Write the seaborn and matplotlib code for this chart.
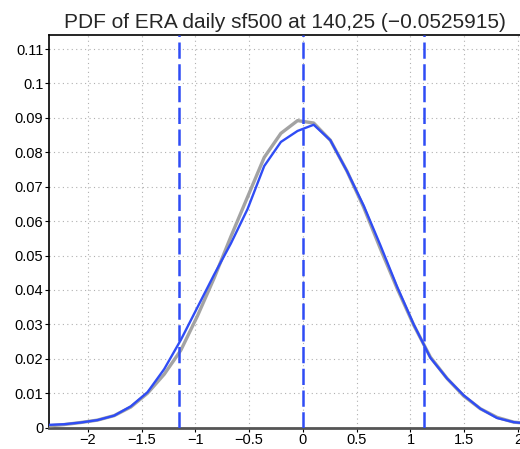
import matplotlib
matplotlib.use("Agg")
import matplotlib.pyplot as plt
import seaborn as sns
import pandas as pd

title = "PDF of ERA daily sf500 at 140,25 (\u22120.0525915)"

x_vals = [-2.375, -2.22, -2.065, -1.91, -1.755, -1.6, -1.445, -1.29, -1.135, -0.98,
          -0.825, -0.67, -0.515, -0.36, -0.205, -0.05, 0.1, 0.255, 0.41, 0.565,
          0.72, 0.875, 1.03, 1.185, 1.34, 1.495, 1.65, 1.805, 1.96, 2.115]
blue_vals = [0.0008, 0.0010, 0.0015, 0.0022, 0.0035, 0.0062, 0.0103, 0.0170, 0.0255, 0.0350,
             0.0445, 0.0535, 0.0635, 0.0760, 0.0830, 0.0862, 0.0880, 0.0835, 0.0745, 0.0645,
             0.0530, 0.0410, 0.0300, 0.0203, 0.0143, 0.0094, 0.0055, 0.0028, 0.0016, 0.0011]
gray_vals = [0.0005, 0.0009, 0.0015, 0.0022, 0.0035, 0.0060, 0.0100, 0.0155, 0.0225, 0.0325,
             0.0435, 0.0555, 0.0670, 0.0785, 0.0855, 0.0892, 0.0885, 0.0835, 0.0745, 0.0640,
             0.0520, 0.0405, 0.0298, 0.0205, 0.0143, 0.0092, 0.0055, 0.0030, 0.0016, 0.0012]
vlines = [-1.152, 0.0, 1.123]

xticks = [-2, -1.5, -1, -0.5, 0, 0.5, 1, 1.5, 2]
xticklabels = ["\u22122", "\u22121.5", "\u22121", "\u22120.5", "0", "0.5", "1", "1.5", "2"]
yticks = [0, 0.01, 0.02, 0.03, 0.04, 0.05, 0.06, 0.07, 0.08, 0.09, 0.1, 0.11]
yticklabels = ["0", "0.01", "0.02", "0.03", "0.04", "0.05", "0.06", "0.07", "0.08", "0.09", "0.1", "0.11"]

sns.set_style("white")
plt.rcParams['font.family'] = ['Liberation Sans', 'DejaVu Sans']

fig = plt.figure(figsize=(5.2, 4.49), dpi=100)
ax = fig.add_axes([0.0942, 0.0475, 0.9068, 0.874])

df = pd.DataFrame({"x": x_vals, "blue": blue_vals, "gray": gray_vals})

sns.lineplot(data=df, x="x", y="gray", ax=ax, color="#a3a3a3", linewidth=2.4, zorder=3)
sns.lineplot(data=df, x="x", y="blue", ax=ax, color="#2f4cf5", linewidth=1.7, zorder=4)

for v in vlines:
    ax.axvline(v, color="#2f4cf5", linewidth=1.8, linestyle=(0, (6.5, 2.2)), zorder=5)

ax.set_xlim(-2.361, 2.023)
ax.set_ylim(0, 0.114)
ax.set_xticks(xticks)
ax.set_xticklabels(xticklabels)
ax.set_yticks(yticks)
ax.set_yticklabels(yticklabels)
ax.grid(True, color="#b0b0b0", linestyle=(0, (1, 3)), linewidth=0.8)
ax.set_axisbelow(True)
ax.set_xlabel("")
ax.set_ylabel("")

for s in ["left", "top", "right"]:
    ax.spines[s].set_color("black")
    ax.spines[s].set_linewidth(1.2)
ax.spines["bottom"].set_color("#555555")
ax.spines["bottom"].set_linewidth(2.0)

ax.tick_params(axis="both", direction="out", length=3, width=0.8, colors="black",
               labelsize=10.5, pad=1.0, left=True, bottom=True)
ax.set_title(title, fontsize=15, pad=5)

fig.savefig("out.png", dpi=100)
